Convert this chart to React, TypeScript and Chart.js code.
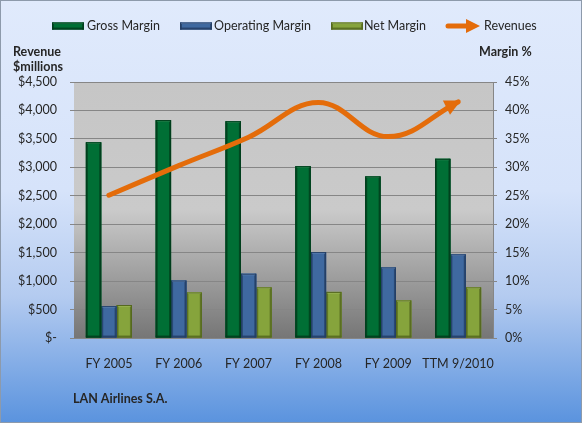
import React, { useEffect, useRef } from 'react';
import { Chart, registerables } from 'chart.js';

Chart.register(...registerables);

const categories = ['FY 2005', 'FY 2006', 'FY 2007', 'FY 2008', 'FY 2009', 'TTM 9/2010'];
const grossMargin = [34.4, 38.3, 38.1, 30.2, 28.4, 31.5];
const operatingMargin = [5.6, 10.1, 11.3, 15.1, 12.4, 14.7];
const netMargin = [5.8, 8.0, 8.9, 8.1, 6.6, 8.9];
const revenues = [2510, 3030, 3530, 4140, 3540, 4150];

const revenueMax = 4500;
const revenueStep = 500;
const marginMax = 45;
const marginStep = 5;

const FONT = 'Lato, "Open Sans", sans-serif';
const TEXT = '#262626';
const GRID = '#868686';

const barStyles = [
  { fill: '#006f35', dark: '#003d1c', light: '#2f8a55' },
  { fill: '#3f69a0', dark: '#243f66', light: '#6a8fc0' },
  { fill: '#86a43c', dark: '#55691f', light: '#a9c266' },
];
const lineColor = '#e46c0a';

function bevel(ctx: CanvasRenderingContext2D, x0: number, y0: number, x1: number, y1: number, s: any) {
  const w = x1 - x0;
  const h = y1 - y0;
  if (h <= 0) return;
  ctx.save();
  ctx.fillStyle = s.fill;
  ctx.fillRect(x0, y0, w, h);
  ctx.globalAlpha = 0.75;
  ctx.fillStyle = s.dark;
  ctx.fillRect(x0, y0, 2, h);
  ctx.fillRect(x1 - 2, y0, 2, h);
  ctx.fillRect(x0, y1 - 2, w, 2);
  ctx.globalAlpha = 0.9;
  ctx.fillStyle = s.light;
  ctx.fillRect(x0 + 1, y0, w - 2, 1.5);
  ctx.globalAlpha = 1;
  ctx.strokeStyle = s.dark;
  ctx.lineWidth = 1;
  ctx.strokeRect(x0 + 0.5, y0 + 0.5, w - 1, h - 1);
  ctx.restore();
}

function arrowHead(ctx: CanvasRenderingContext2D, tx: number, ty: number, dx: number, dy: number, len: number, half: number) {
  const bx = tx - dx * len;
  const by = ty - dy * len;
  const px = -dy;
  const py = dx;
  ctx.beginPath();
  ctx.moveTo(tx, ty);
  ctx.lineTo(bx + px * half, by + py * half);
  ctx.lineTo(bx - px * half, by - py * half);
  ctx.closePath();
  ctx.fill();
}

const decorPlugin = {
  id: 'decor',
  beforeDraw(chart: any) {
    const { ctx, width, height, chartArea } = chart;
    ctx.save();
    const g = ctx.createLinearGradient(0, 0, 0, height);
    g.addColorStop(0, '#e0eafc');
    g.addColorStop(0.45, '#d6e3fa');
    g.addColorStop(0.7, '#b4cbf0');
    g.addColorStop(1, '#5a93de');
    ctx.fillStyle = g;
    ctx.fillRect(0, 0, width, height);
    ctx.strokeStyle = '#8d9aab';
    ctx.lineWidth = 1;
    ctx.strokeRect(0.5, 0.5, width - 1, height - 1);
    const { left, top, right, bottom } = chartArea;
    const pg = ctx.createLinearGradient(0, top, 0, bottom);
    pg.addColorStop(0, '#c6c6c6');
    pg.addColorStop(0.5, '#cacaca');
    pg.addColorStop(1, '#767676');
    ctx.fillStyle = pg;
    ctx.fillRect(left, top, right - left, bottom - top);
    ctx.restore();
  },
  afterDatasetDraw(chart: any, args: any) {
    const meta = args.meta;
    if (meta.type !== 'bar') return;
    const ds = chart.data.datasets[args.index];
    const s = barStyles[ds.styleIndex];
    const ctx = chart.ctx;
    meta.data.forEach((el: any) => {
      const p = el.getProps(['x', 'y', 'base', 'width'], true);
      bevel(ctx, p.x - p.width / 2, Math.min(p.y, p.base), p.x + p.width / 2, Math.max(p.y, p.base), s);
    });
    if (args.index === chart.data.datasets.length - 1) {
      // nothing
    }
  },
  afterDatasetsDraw(chart: any) {
    const ctx = chart.ctx;
    const idx = chart.data.datasets.findIndex((d: any) => d.type === 'line');
    const meta = chart.getDatasetMeta(idx);
    const pts = meta.data;
    const last = pts[pts.length - 1];
    const prev = pts[pts.length - 2];
    let cx = last.cp1x ?? prev.x;
    let cy = last.cp1y ?? prev.y;
    let dx = last.x - cx;
    let dy = last.y - cy;
    const d = Math.hypot(dx, dy) || 1;
    dx /= d;
    dy /= d;
    ctx.save();
    ctx.fillStyle = lineColor;
    arrowHead(ctx, last.x + dx * 3, last.y + dy * 3, dx, dy, 16, 8);
    ctx.restore();
  },
  afterDraw(chart: any) {
    const ctx = chart.ctx;
    ctx.save();
    ctx.textBaseline = 'middle';
    ctx.textAlign = 'left';
    ctx.fillStyle = TEXT;
    // legend
    ctx.font = `12.5px ${FONT}`;
    const ly = 26;
    const items = [
      { label: 'Gross Margin', sx: 52, tx: 87, style: 0 },
      { label: 'Operating Margin', sx: 180, tx: 214, style: 1 },
      { label: 'Net Margin', sx: 331, tx: 364, style: 2 },
    ];
    items.forEach((it) => {
      bevel(ctx, it.sx, ly - 3.5, it.sx + 32, ly + 3.5, barStyles[it.style]);
      ctx.fillStyle = TEXT;
      ctx.fillText(it.label, it.tx, ly);
    });
    ctx.strokeStyle = lineColor;
    ctx.fillStyle = lineColor;
    ctx.lineWidth = 5;
    ctx.lineCap = 'round';
    ctx.beginPath();
    ctx.moveTo(448, ly);
    ctx.lineTo(468, ly);
    ctx.stroke();
    arrowHead(ctx, 480, ly, 1, 0, 14, 7);
    ctx.fillStyle = TEXT;
    ctx.fillText('Revenues', 484, ly);
    // axis titles
    ctx.font = `bold 12.5px ${FONT}`;
    ctx.fillText('Revenue', 13, 52);
    ctx.fillText('$millions', 13, 67);
    ctx.fillText('Margin %', 479, 52);
    ctx.fillText('LAN Airlines S.A.', 73, 399);
    ctx.restore();
  },
};

export default function App() {
  const ref = useRef<HTMLCanvasElement | null>(null);

  useEffect(() => {
    if (!ref.current) return;
    const chart = new Chart(ref.current, {
      type: 'bar',
      data: {
        labels: categories,
        datasets: [
          {
            type: 'line',
            label: 'Revenues',
            data: revenues,
            yAxisID: 'y',
            borderColor: lineColor,
            backgroundColor: lineColor,
            borderWidth: 5,
            tension: 0.4,
            pointRadius: 0,
            fill: false,
            borderCapStyle: 'round',
            order: 0,
          } as any,
          {
            type: 'bar',
            label: 'Gross Margin',
            data: grossMargin,
            yAxisID: 'y1',
            backgroundColor: barStyles[0].fill,
            borderWidth: 0,
            categoryPercentage: 0.66,
            barPercentage: 1,
            order: 1,
            styleIndex: 0,
          } as any,
          {
            type: 'bar',
            label: 'Operating Margin',
            data: operatingMargin,
            yAxisID: 'y1',
            backgroundColor: barStyles[1].fill,
            borderWidth: 0,
            categoryPercentage: 0.66,
            barPercentage: 1,
            order: 1,
            styleIndex: 1,
          } as any,
          {
            type: 'bar',
            label: 'Net Margin',
            data: netMargin,
            yAxisID: 'y1',
            backgroundColor: barStyles[2].fill,
            borderWidth: 0,
            categoryPercentage: 0.66,
            barPercentage: 1,
            order: 1,
            styleIndex: 2,
          } as any,
        ],
      },
      options: {
        responsive: false,
        animation: false,
        layout: { padding: { top: 82, left: 0, right: 0, bottom: 0 } },
        plugins: {
          legend: { display: false },
          tooltip: { enabled: false },
        },
        scales: {
          x: {
            offset: true,
            grid: { display: false },
            border: { display: true, color: GRID, width: 1 },
            ticks: {
              padding: 10,
              color: TEXT,
              font: { family: FONT, size: 12.5 },
              maxRotation: 0,
              autoSkip: false,
            },
            afterFit: (s: any) => {
              s.height = 85;
            },
          },
          y: {
            position: 'left',
            min: 0,
            max: revenueMax,
            ticks: {
              stepSize: revenueStep,
              padding: 13,
              color: TEXT,
              font: { family: FONT, size: 12.5 },
              callback: (v: any) => (Number(v) === 0 ? '$-' : '$' + Number(v).toLocaleString('en-US')),
            },
            grid: { color: GRID, lineWidth: 1, tickLength: 4 },
            border: { display: false },
            afterFit: (s: any) => {
              s.width = 74;
            },
          },
          y1: {
            position: 'right',
            min: 0,
            max: marginMax,
            ticks: {
              stepSize: marginStep,
              padding: 8,
              color: TEXT,
              font: { family: FONT, size: 12.5 },
              callback: (v: any) => v + '%',
            },
            grid: { drawOnChartArea: false, color: GRID, tickLength: 4 },
            border: { display: true, color: GRID, width: 1 },
            afterFit: (s: any) => {
              s.width = 89;
            },
          },
        },
      } as any,
      plugins: [decorPlugin],
    });
    return () => chart.destroy();
  }, []);

  return (
    <div style={{ position: 'absolute', left: 0, top: 0, width: 582, height: 423 }}>
      <canvas ref={ref} width={582} height={423} style={{ display: 'block', width: 582, height: 423 }} />
    </div>
  );
}
